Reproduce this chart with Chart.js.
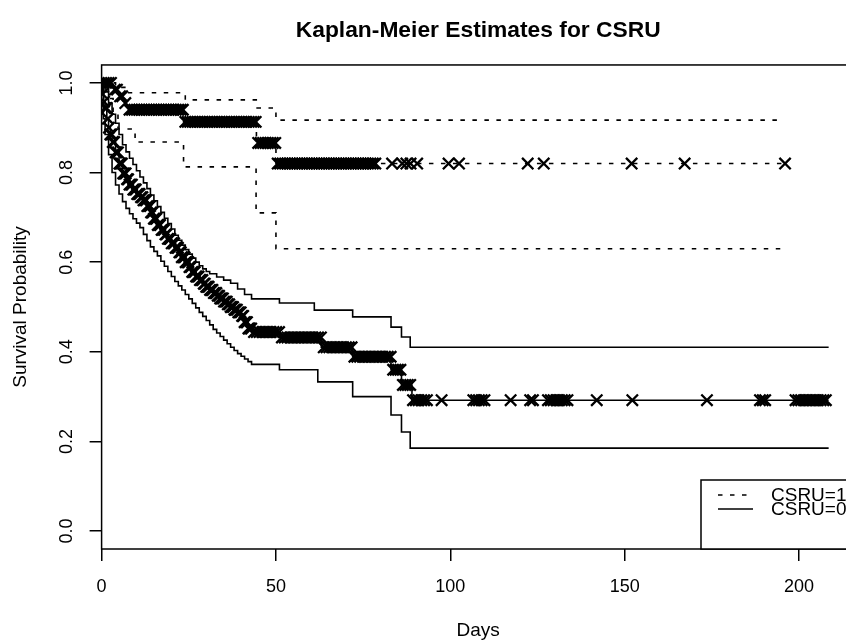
<!DOCTYPE html>
<html>
<head>
<meta charset="utf-8">
<title>Kaplan-Meier Estimates for CSRU</title>
<script src="https://cdn.jsdelivr.net/npm/chart.js@4.4.0/dist/chart.umd.min.js"></script>
<style>
  html, body { margin: 0; padding: 0; background: #fff; overflow: hidden; }
  #wrap { width: 870px; height: 644px; }
</style>
</head>
<body>
<div id="wrap"><canvas id="kmChart" width="870" height="644"></canvas></div>
<script>
// ============================================
// DATOS
// ============================================

const xTicks = [0, 50, 100, 150, 200];
const yTicks = [0, 0.2, 0.4, 0.6, 0.8, 1.0];
const groupLabels = ['CSRU=1', 'CSRU=0'];

// CSRU=0 - curva KM (linea continua)
const csru0Time = [0, 0.3, 0.6, 1, 1.5, 2, 2.5, 3, 4, 5, 6, 7, 8, 9, 10, 11, 12, 13, 14, 15, 16, 17, 18, 19, 20,
    21, 22, 23, 24, 25, 26, 27, 28, 29, 30, 31, 32, 33, 34, 35, 36, 37, 38, 39, 40, 41, 42, 43, 51, 63, 72, 83, 86, 89, 208.5];
const csru0Surv = [1, 0.975, 0.958, 0.944, 0.92, 0.9, 0.885, 0.868, 0.845, 0.82, 0.798, 0.785, 0.773, 0.762, 0.752,
    0.745, 0.738, 0.725, 0.711, 0.697, 0.683, 0.672, 0.662, 0.652, 0.642, 0.632, 0.622, 0.611, 0.6, 0.589, 0.578,
    0.568, 0.56, 0.552, 0.545, 0.538, 0.531, 0.525, 0.519, 0.512, 0.506, 0.5, 0.494, 0.488, 0.48, 0.466, 0.452,
    0.444, 0.432, 0.41, 0.389, 0.36, 0.326, 0.292, 0.292];

// CSRU=0 - intervalo superior
const csru0UpTime = [0, 1, 2, 3, 4, 5, 6, 7, 8, 9, 10, 11, 12, 13, 14, 15, 16, 17, 18, 19, 20, 21, 22, 23, 24, 25,
    26, 27, 28, 29, 30, 31, 33, 35, 37, 39, 41, 43, 51, 61, 72, 83, 86, 88.5, 208.5];
const csru0UpVal = [1, 0.98, 0.955, 0.93, 0.91, 0.885, 0.862, 0.846, 0.832, 0.818, 0.804, 0.79, 0.777, 0.764, 0.75,
    0.737, 0.724, 0.711, 0.698, 0.686, 0.674, 0.66, 0.649, 0.638, 0.628, 0.618, 0.609, 0.6, 0.592, 0.585, 0.579,
    0.574, 0.567, 0.56, 0.553, 0.54, 0.528, 0.518, 0.509, 0.493, 0.478, 0.455, 0.433, 0.41, 0.41];

// CSRU=0 - intervalo inferior
const csru0LoTime = [0, 0.5, 1, 2, 3, 4, 5, 6, 7, 8, 9, 10, 11, 12, 13, 14, 15, 16, 17, 18, 19, 20, 21, 22, 23, 24,
    25, 26, 27, 28, 29, 30, 31, 32, 33, 34, 35, 36, 37, 38, 39, 40, 41, 42, 43, 51, 62, 72, 83, 86, 88.5, 208.5];
const csru0LoVal = [1, 0.92, 0.885, 0.84, 0.8, 0.772, 0.752, 0.735, 0.72, 0.708, 0.697, 0.687, 0.677, 0.662, 0.648,
    0.634, 0.624, 0.614, 0.602, 0.591, 0.579, 0.568, 0.557, 0.547, 0.538, 0.528, 0.518, 0.508, 0.498, 0.488, 0.479,
    0.47, 0.46, 0.45, 0.442, 0.434, 0.426, 0.418, 0.41, 0.403, 0.396, 0.39, 0.384, 0.378, 0.372, 0.36, 0.333, 0.3,
    0.259, 0.221, 0.185, 0.185];

// CSRU=0 - tiempos censurados
const csru0Censor = [0.3, 0.7, 1.0, 1.4, 1.8, 2.1, 2.5, 2.9, 3.2, 3.6, 4.0, 4.3, 4.7, 5.1, 5.4, 5.8, 6.2, 6.5, 6.9,
    7.3, 7.6, 8.0, 8.4, 8.7, 9.1, 9.5, 9.8, 10.2, 10.6, 10.9, 11.3, 11.7, 12.0, 12.4, 12.8, 13.1, 13.5, 13.9, 14.2,
    14.6, 15.0, 15.3, 15.7, 16.1, 16.4, 16.8, 17.2, 17.5, 17.9, 18.3, 18.6, 19.0, 19.4, 19.7, 20.1, 20.5, 20.8, 21.2,
    21.6, 21.9, 22.3, 22.7, 23.0, 23.4, 23.8, 24.1, 24.5, 24.9, 25.2, 25.6, 26.0, 26.3, 26.7, 27.1, 27.4, 27.8, 28.2,
    28.5, 28.9, 29.3, 29.6, 30.0, 30.4, 30.7, 31.1, 31.5, 31.8, 32.2, 32.6, 32.9, 33.3, 33.7, 34.0, 34.4, 34.8, 35.1,
    35.5, 35.9, 36.2, 36.6, 37.0, 37.3, 37.7, 38.1, 38.4, 38.8, 39.2, 39.5, 39.9, 40.3, 40.6, 41.0, 41.4, 41.7, 42.1,
    42.5, 42.9, 43.7, 44.5, 45.3, 46.1, 46.9, 47.7, 48.5, 49.3, 50.1, 50.9, 51.7, 52.5, 53.3, 54.1, 54.9, 55.7, 56.5,
    57.3, 58.1, 58.9, 59.7, 60.5, 61.3, 62.1, 62.9, 63.7, 64.5, 65.3, 66.1, 66.9, 67.7, 68.5, 69.3, 70.1, 70.9, 71.7,
    72.5, 73.3, 74.1, 74.9, 75.7, 76.5, 77.3, 78.1, 78.9, 79.7, 80.5, 81.3, 82.1, 82.9, 83.6, 84.3, 85.0, 85.7, 86.4,
    87.1, 87.8, 88.5, 89.3, 90.1, 90.9, 91.7, 92.5, 93.3, 97.5, 106.6, 107.4, 108.2, 109.0, 109.8, 117.3, 122.9,
    123.7, 128.0, 128.8, 129.6, 130.4, 131.2, 132.0, 132.8, 133.6, 142.0, 152.2, 173.6, 188.8, 189.6, 190.3, 199.0,
    199.8, 200.6, 201.4, 202.2, 203.0, 203.8, 204.6, 205.4, 206.2, 207.0, 207.7];

// CSRU=1 - curva KM (linea discontinua)
const csru1Time = [0, 3.3, 4.8, 6.2, 7.5, 23.5, 44.4, 50, 196];
const csru1Surv = [1, 0.985, 0.97, 0.955, 0.94, 0.913, 0.866, 0.82, 0.82];

// CSRU=1 - intervalos
const csru1UpTime = [0, 4, 7.2, 24, 44.6, 50, 195];
const csru1UpVal = [1, 0.99, 0.978, 0.962, 0.944, 0.917, 0.917];
const csru1LoTime = [0, 2, 3.3, 4.7, 9.6, 23.5, 44.3, 50, 195];
const csru1LoVal = [1, 0.965, 0.93, 0.897, 0.868, 0.8125, 0.71, 0.63, 0.63];

// CSRU=1 - tiempos censurados
const csru1Censor = [0.6, 1.3, 2.0, 2.7, 3.8, 4.4, 5.3, 5.9, 6.8, 8.0, 8.7, 9.4, 10.1, 10.8, 11.5, 12.2, 12.9,
    13.6, 14.3, 15.0, 15.7, 16.4, 17.1, 17.8, 18.5, 19.2, 19.9, 20.6, 21.3, 22.0, 22.7, 23.3, 24.0, 24.7, 25.4, 26.1,
    26.8, 27.5, 28.2, 28.9, 29.6, 30.3, 31.0, 31.7, 32.4, 33.1, 33.8, 34.5, 35.2, 35.9, 36.6, 37.3, 38.0, 38.7, 39.4,
    40.1, 40.8, 41.5, 42.2, 42.9, 43.6, 44.2, 44.9, 45.6, 46.3, 47.0, 47.7, 48.4, 49.1, 49.8, 50.5, 51.2, 51.9, 52.6,
    53.3, 54.0, 54.7, 55.4, 56.1, 56.8, 57.5, 58.2, 58.9, 59.6, 60.3, 61.0, 61.7, 62.4, 63.1, 63.8, 64.5, 65.2, 65.9,
    66.6, 67.3, 68.0, 68.7, 69.4, 70.1, 70.8, 71.5, 72.2, 72.9, 73.6, 74.3, 75.0, 75.7, 76.4, 77.1, 77.8, 78.5, 83.3,
    86.2, 87.4, 88.6, 90.5, 99.5, 102.5, 122.2, 126.8, 152.0, 167.2, 196.0];

// ============================================
// HELPERS
// ============================================

// Pares {x, y} para una curva escalonada
function toSteps(times, values) {
    return times.map((t, i) => ({ x: t, y: values[i] }));
}

// Valor de la curva KM en el tiempo t (para ubicar las marcas de censura)
function survAt(times, values, t) {
    let s = values[0];
    for (let i = 0; i < times.length; i++) {
        if (times[i] <= t) s = values[i];
        else break;
    }
    return s;
}

function toMarks(censor, times, values) {
    return censor.map(t => ({ x: t, y: survAt(times, values, t) }));
}

// ============================================
// ESTILOS
// ============================================

const DASH = [4.5, 7.5];

function stepLine(data, dashed) {
    return {
        data: data,
        showLine: true,
        stepped: 'before',
        borderColor: '#000',
        borderWidth: 1.6,
        borderDash: dashed ? DASH : [],
        pointRadius: 0,
        fill: false
    };
}

function censorMarks(data) {
    return {
        data: data,
        showLine: false,
        pointStyle: 'crossRot',
        pointRadius: 8,
        pointBorderColor: '#000',
        pointBackgroundColor: 'transparent',
        pointBorderWidth: 2.3
    };
}

// Marco del grafico + leyenda abajo a la derecha
const marcoPlugin = {
    id: 'marco',
    afterDraw(chart) {
        const { ctx, chartArea: a } = chart;
        ctx.save();
        ctx.strokeStyle = '#000';
        ctx.lineWidth = 1.5;
        ctx.strokeRect(a.left, a.top, a.right - a.left, a.bottom - a.top);

        // Leyenda
        const lx = 701, ly = a.bottom - 69;
        ctx.fillStyle = '#fff';
        ctx.fillRect(lx, ly, 200, 69);
        ctx.strokeRect(lx, ly, 200, 69);

        const rows = [495, 509];
        ctx.font = '19px "Liberation Sans", Arial, Helvetica, sans-serif';
        ctx.fillStyle = '#000';
        ctx.textBaseline = 'middle';
        ctx.textAlign = 'left';
        groupLabels.forEach((lab, i) => {
            ctx.beginPath();
            ctx.lineWidth = 1.4;
            ctx.setLineDash(i === 0 ? DASH : []);
            ctx.moveTo(718, rows[i]);
            ctx.lineTo(753, rows[i]);
            ctx.stroke();
            ctx.setLineDash([]);
            ctx.fillText(lab, 771, rows[i] + 1);
        });
        ctx.restore();
    }
};

// ============================================
// GRAFICO
// ============================================

Chart.defaults.font.family = '"Liberation Sans", Arial, Helvetica, sans-serif';
Chart.defaults.color = '#000';

new Chart(document.getElementById('kmChart'), {
    type: 'scatter',
    data: {
        datasets: [
            stepLine(toSteps(csru0UpTime, csru0UpVal), false),
            stepLine(toSteps(csru0LoTime, csru0LoVal), false),
            stepLine(toSteps(csru0Time, csru0Surv), false),
            stepLine(toSteps(csru1UpTime, csru1UpVal), true),
            stepLine(toSteps(csru1LoTime, csru1LoVal), true),
            stepLine(toSteps(csru1Time, csru1Surv), true),
            censorMarks(toMarks(csru0Censor, csru0Time, csru0Surv)),
            censorMarks(toMarks(csru1Censor, csru1Time, csru1Surv))
        ]
    },
    options: {
        responsive: false,
        animation: false,
        events: [],
        layout: { padding: { left: 0, right: 15.2, top: 0, bottom: 0 } },
        plugins: {
            legend: { display: false },
            tooltip: { enabled: false },
            title: {
                display: true,
                text: 'Kaplan-Meier Estimates for CSRU',
                fullSize: false,
                font: { size: 22.8, weight: 'bold' },
                padding: { top: 17.5, bottom: 20.1 }
            }
        },
        scales: {
            x: {
                type: 'linear',
                min: 0,
                max: 216,
                afterBuildTicks: (axis) => { axis.ticks = xTicks.map(v => ({ value: v })); },
                afterFit: (axis) => { axis.height = 95; },
                grid: { drawOnChartArea: false, drawTicks: true, tickLength: 12, color: '#000', lineWidth: 1.5 },
                border: { display: false },
                ticks: { font: { size: 18 }, padding: 15.2, maxRotation: 0, autoSkip: false },
                title: { display: true, text: 'Days', font: { size: 19 }, padding: { top: 0, bottom: 1.6 } }
            },
            y: {
                type: 'linear',
                min: -0.04,
                max: 1.04,
                afterBuildTicks: (axis) => { axis.ticks = yTicks.map(v => ({ value: v })); },
                afterFit: (axis) => { axis.width = 101.6; },
                grid: { drawOnChartArea: false, drawTicks: true, tickLength: 12, color: '#000', lineWidth: 1.5 },
                border: { display: false },
                ticks: {
                    font: { size: 18 },
                    padding: 9.7,
                    minRotation: 90,
                    maxRotation: 90,
                    crossAlign: 'center',
                    autoSkip: false,
                    callback: (v) => Number(v).toFixed(1)
                },
                title: { display: true, text: 'Survival Probability', font: { size: 19 }, padding: { top: 9.6, bottom: 0 } }
            }
        }
    },
    plugins: [marcoPlugin]
});
</script>
</body>
</html>
